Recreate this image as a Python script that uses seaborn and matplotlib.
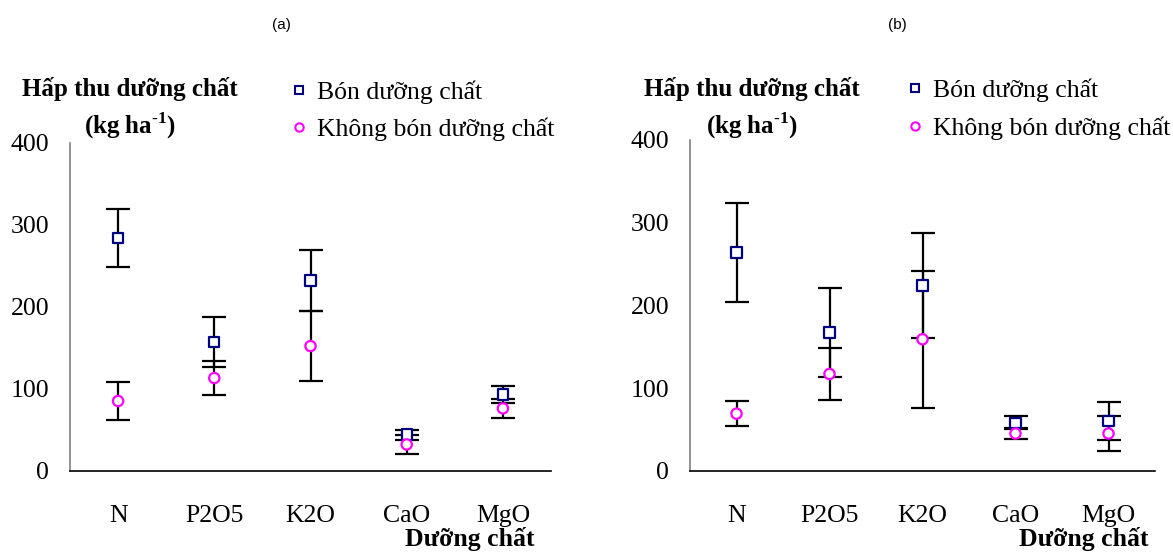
import numpy as np
import pandas as pd
import matplotlib
matplotlib.use("Agg")
import matplotlib.pyplot as plt
from matplotlib.lines import Line2D
import seaborn as sns

# data (mean and error bar half-width, kg/ha)
nutrients = ['N', 'P2O5', 'K2O', 'CaO', 'MgO']
treatments = ['Bón dưỡng chất', 'Không bón dưỡng chất']

a_fert = [284, 157, 232, 44, 93]
a_fert_err = [35, 31, 37, 6, 10]
a_nofert = [85, 113, 152, 32, 76]
a_nofert_err = [23, 21, 43, 12, 12]

b_fert = [264, 167, 224, 58, 60]
b_fert_err = [60, 54, 63, 8, 23]
b_nofert = [69, 117, 159, 45, 45]
b_nofert_err = [15, 32, 83, 7, 21]

colors = {treatments[0]: '#000080', treatments[1]: '#FF00FF'}
markers = {treatments[0]: 's', treatments[1]: 'o'}

sns.set_style("white")
plt.rcParams['font.family'] = ['Liberation Serif', 'DejaVu Serif']
plt.rcParams['mathtext.fontset'] = 'custom'
plt.rcParams['mathtext.rm'] = 'Liberation Serif:bold'
plt.rcParams['mathtext.bf'] = 'Liberation Serif:bold'
for key in ['text.color', 'axes.labelcolor', 'xtick.color', 'ytick.color']:
    plt.rcParams[key] = 'black'

W, H = 1173, 553
fig = plt.figure(figsize=(W / 100, H / 100), dpi=100)


def fx(x):
    return x / W


def fy(y):
    return 1 - y / H


def make_frame(fert, fert_err, nofert, nofert_err):
    return pd.DataFrame({
        'nutrient': nutrients * 2,
        'treatment': [treatments[0]] * 5 + [treatments[1]] * 5,
        'value': fert + nofert,
        'err': fert_err + nofert_err,
    })


def draw_panel(ax, df):
    pos = np.arange(len(nutrients))
    for t in treatments:
        sub = df[df['treatment'] == t]
        ax.errorbar(pos, sub['value'], yerr=sub['err'], fmt='none',
                    ecolor='black', elinewidth=1.6, capsize=8.5,
                    capthick=1.6, zorder=2)
    sns.scatterplot(data=df, x='nutrient', y='value', hue='treatment',
                    style='treatment', palette=colors, markers=markers,
                    s=55, linewidth=1.6, legend=False, ax=ax, zorder=3)
    coll = ax.collections[-1]
    coll.set_edgecolors(coll.get_facecolors())
    coll.set_facecolors('white')

    ax.set_xlim(-0.5, 4.5)
    ax.set_ylim(0, 400)
    ax.set_yticks([0, 100, 200, 300, 400])
    ax.set_xticks(np.arange(-0.5, 5, 1))
    ax.set_xticklabels([])
    ax.set_xticks(pos, minor=True)
    ax.set_xticklabels(nutrients, minor=True, fontsize=18.5)
    ax.tick_params(axis='x', which='major', direction='out', length=6,
                   width=1, color='black')
    ax.tick_params(axis='x', which='minor', length=0, pad=24.5)
    ax.tick_params(axis='y', direction='out', length=7, width=1,
                   color='#808080', pad=8, labelsize=18.5)
    ax.set_xlabel('')
    ax.set_ylabel('')
    sns.despine(ax=ax)
    ax.spines['left'].set_color('#808080')
    ax.spines['left'].set_linewidth(1.2)
    ax.spines['bottom'].set_color('black')
    ax.spines['bottom'].set_linewidth(1.2)


ax_a = fig.add_axes([fx(70), fy(470.7), fx(551) - fx(70), fy(142.7) - fy(470.7)])
ax_b = fig.add_axes([fx(690), fy(470.7), fx(1155) - fx(690), fy(140) - fy(470.7)])

draw_panel(ax_a, make_frame(a_fert, a_fert_err, a_nofert, a_nofert_err))
draw_panel(ax_b, make_frame(b_fert, b_fert_err, b_nofert, b_nofert_err))

# panel letters
fig.text(fx(281), fy(25), '(a)', ha='center', va='center', fontsize=11,
         family=['Liberation Sans', 'DejaVu Sans'])
fig.text(fx(897), fy(25), '(b)', ha='center', va='center', fontsize=11,
         family=['Liberation Sans', 'DejaVu Sans'])

# y titles, x titles and legends, placed per panel
for ycx, xlab_x, leg_x, leg_y in [(130, 470, 299, (90, 127)),
                                   (752, 1084, 915, (88, 126))]:
    fig.text(fx(ycx), fy(96), 'Hấp thu dưỡng chất', ha='center',
             va='baseline', fontsize=18, fontweight='bold')
    fig.text(fx(ycx), fy(134), r'(kg ha$^{\text{-1}}$)', ha='center',
             va='baseline', fontsize=18, fontweight='bold')
    fig.text(fx(xlab_x), fy(546), 'Dưỡng chất', ha='center',
             va='baseline', fontsize=18.5, fontweight='bold')
    for t, ly in zip(treatments, leg_y):
        fig.add_artist(Line2D([fx(leg_x)], [fy(ly)], transform=fig.transFigure,
                              marker=markers[t], markersize=6, mfc='white',
                              mec=colors[t], mew=1.5, ls='none'))
        fig.text(fx(leg_x + 18), fy(ly + 9), t, ha='left', va='baseline',
                 fontsize=18.5)

fig.savefig('out.png', dpi=100)
